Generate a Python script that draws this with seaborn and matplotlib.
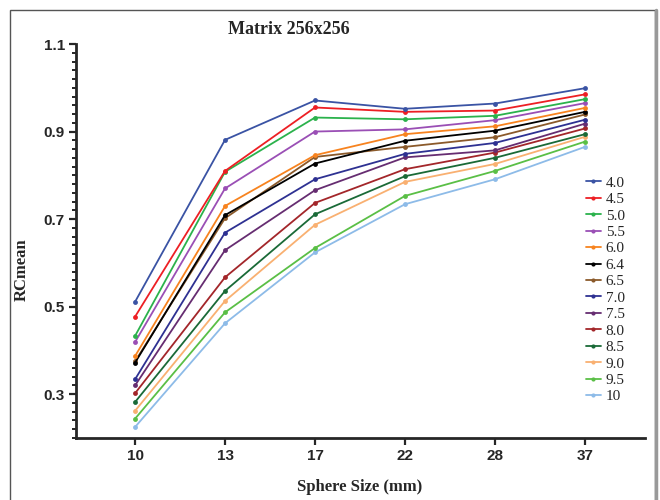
import matplotlib
matplotlib.use("Agg")
import matplotlib.pyplot as plt
import seaborn as sns
import pandas as pd
from matplotlib.lines import Line2D
from matplotlib.patches import Rectangle
from matplotlib.ticker import MultipleLocator

sizes = ["10", "13", "17", "22", "28", "37"]
series_names = ["4.0", "4.5", "5.0", "5.5", "6.0", "6.4", "6.5",
                "7.0", "7.5", "8.0", "8.5", "9.0", "9.5", "10"]

v40 = [0.511, 0.881, 0.971, 0.952, 0.964, 0.999]
v45 = [0.477, 0.810, 0.955, 0.945, 0.948, 0.985]
v50 = [0.433, 0.808, 0.932, 0.928, 0.936, 0.974]
v55 = [0.419, 0.770, 0.900, 0.905, 0.926, 0.965]
v60 = [0.387, 0.730, 0.846, 0.894, 0.912, 0.954]
v64 = [0.372, 0.709, 0.827, 0.879, 0.902, 0.945]
v65 = [0.375, 0.702, 0.842, 0.865, 0.887, 0.939]
v70 = [0.334, 0.669, 0.791, 0.849, 0.874, 0.927]
v75 = [0.320, 0.629, 0.766, 0.841, 0.857, 0.918]
v80 = [0.302, 0.567, 0.737, 0.814, 0.852, 0.907]
v85 = [0.282, 0.536, 0.711, 0.798, 0.840, 0.894]
v90 = [0.262, 0.513, 0.687, 0.785, 0.826, 0.888]
v95 = [0.244, 0.487, 0.634, 0.753, 0.810, 0.877]
v100 = [0.225, 0.462, 0.624, 0.734, 0.791, 0.865]

values = [v40, v45, v50, v55, v60, v64, v65, v70, v75, v80, v85, v90, v95, v100]
colors = ["#3a53a4", "#ed1f24", "#2bb24c", "#9a4fb5", "#f7831f", "#000000",
          "#8b5a2b", "#2e3192", "#662d71", "#a3262a", "#1a6a37", "#f9b071",
          "#5abf46", "#8dbbe8"]

sns.set_style("ticks")
plt.rcParams['font.family'] = ['Liberation Sans', 'DejaVu Sans']

fig = plt.figure(figsize=(6.6, 5), dpi=100)
ax = fig.add_axes([76/660, 1-438/500, (645-76)/660, (438-44)/500])

rows = []
for name, vals in zip(series_names, values):
    for i, (s, v) in enumerate(zip(sizes, vals)):
        rows.append({"series": name, "pos": i, "value": v})
df = pd.DataFrame(rows)

n = len(series_names)
for k, (name, col) in enumerate(zip(series_names, colors)):
    sub = df[df["series"] == name]
    sns.lineplot(data=sub, x="pos", y="value", ax=ax, color=col, lw=1.3,
                 marker="o", markersize=3.5, markeredgewidth=0,
                 zorder=3 + (n - k), legend=False)

ax.set_xlim(-0.656, 5.667)
ax.set_ylim(0.2, 1.1)
ax.set_xticks(range(len(sizes)))
ax.set_xticklabels(sizes)
ax.set_yticks([0.3, 0.5, 0.7, 0.9, 1.1])
ax.set_yticklabels(["0.3", "0.5", "0.7", "0.9", "1.1"])
ax.yaxis.set_minor_locator(MultipleLocator(0.02))
ax.tick_params(axis="both", which="major", labelsize=11, width=1.6, length=5, pad=3)
ax.tick_params(axis="y", which="minor", width=1.4, length=3)
for lab in ax.get_xticklabels() + ax.get_yticklabels():
    lab.set_fontweight("bold")
for sp in ["top", "right"]:
    ax.spines[sp].set_visible(False)
for sp in ["left", "bottom"]:
    ax.spines[sp].set_linewidth(2)

ax.set_xlabel("")
ax.set_ylabel("")
fig.text(360/660, 1-487/500, "Sphere Size (mm)", ha="center", va="center",
         fontsize=12, fontweight="bold", family=["Liberation Serif"])
fig.text(22/660, 1-270/500, "RCmean", ha="center", va="center", rotation=90,
         fontsize=12, fontweight="bold", family=["Liberation Serif"])
fig.text(289/660, 1-30/500, "Matrix 256x256", ha="center", va="center",
         fontsize=13, fontweight="bold", family=["Liberation Serif"])

handles = [Line2D([0], [0], color=c, lw=1.3, marker="o", markersize=3,
                  markeredgewidth=0) for c in colors]
leg = ax.legend(handles, series_names, loc="upper left",
                bbox_to_anchor=(586/660, 1-176/500), bbox_transform=fig.transFigure,
                frameon=False, handlelength=0.95, handletextpad=0.35,
                labelspacing=0.18, borderaxespad=0, borderpad=0,
                prop={"family": "Liberation Serif", "size": 11})

fig.add_artist(Rectangle((10/660, -0.05), (655-10)/660, 1.05 - 10/500 + 0.0,
                         transform=fig.transFigure, fill=False,
                         edgecolor="#555555", lw=1.0))
fig.add_artist(Line2D([656/660, 656/660], [0, 1-10/500], transform=fig.transFigure,
                      color="#999999", lw=2.5))

fig.savefig("out.png", dpi=100)
